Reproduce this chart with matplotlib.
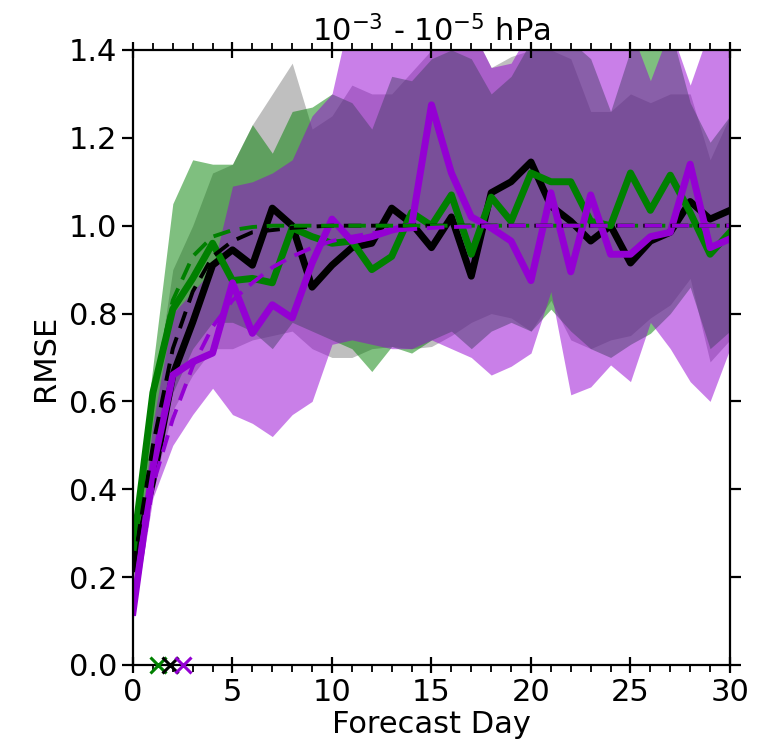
import matplotlib
matplotlib.use("Agg")
import matplotlib.pyplot as plt
from matplotlib.ticker import MultipleLocator

# forecast days
days = list(range(31))

# RMSE per experiment (control = black, exp A = green, exp B = purple)
rmse_k = [0.22, 0.42, 0.66, 0.78, 0.91, 0.945, 0.91, 1.04, 1.00, 0.86, 0.91, 0.95, 0.96, 1.04, 1.005,
          0.95, 1.02, 0.885, 1.075, 1.10, 1.145, 1.045, 1.01, 0.965, 1.00, 0.915, 0.965, 0.985, 1.055, 1.015, 1.035]
rmse_g = [0.26, 0.62, 0.81, 0.88, 0.96, 0.875, 0.88, 0.87, 0.995, 0.975, 0.96, 0.965, 0.90, 0.93, 1.03,
          1.00, 1.07, 0.935, 1.065, 1.01, 1.12, 1.10, 1.10, 1.01, 1.00, 1.12, 1.035, 1.115, 1.03, 0.935, 0.985]
rmse_p = [0.12, 0.45, 0.66, 0.69, 0.71, 0.87, 0.755, 0.82, 0.79, 0.915, 1.015, 0.965, 0.975, 0.99, 1.00,
          1.275, 1.12, 1.02, 0.995, 0.965, 0.875, 1.075, 0.895, 1.07, 0.935, 0.935, 0.975, 0.985, 1.14, 0.95, 0.97]

# fitted saturation curves (dashed)
fit_k = [0.22, 0.50, 0.72, 0.85, 0.93, 0.965, 0.985, 0.99, 0.995, 0.998, 1.0, 1.0, 1.0, 1.0, 1.0,
         1.0, 1.0, 1.0, 1.0, 1.0, 1.0, 1.0, 1.0, 1.0, 1.0, 1.0, 1.0, 1.0, 1.0, 1.0, 1.0]
fit_g = [0.27, 0.62, 0.83, 0.93, 0.975, 0.99, 0.997, 1.0, 1.0, 1.0, 1.0, 1.0, 1.0, 1.0, 1.0,
         1.0, 1.0, 1.0, 1.0, 1.0, 1.0, 1.0, 1.0, 1.0, 1.0, 1.0, 1.0, 1.0, 1.0, 1.0, 1.0]
fit_p = [0.12, 0.41, 0.56, 0.68, 0.77, 0.83, 0.87, 0.905, 0.93, 0.95, 0.965, 0.975, 0.983, 0.988, 0.992,
         0.995, 0.997, 0.998, 0.999, 1.0, 1.0, 1.0, 1.0, 1.0, 1.0, 1.0, 1.0, 1.0, 1.0, 1.0, 1.0]

# spread envelopes
lo_k = [0.18, 0.40, 0.58, 0.66, 0.72, 0.72, 0.74, 0.75, 0.76, 0.72, 0.70, 0.70, 0.72, 0.725, 0.72,
        0.725, 0.75, 0.78, 0.80, 0.79, 0.76, 0.83, 0.74, 0.72, 0.74, 0.75, 0.79, 0.82, 0.88, 0.69, 0.74]
hi_k = [0.28, 0.60, 0.90, 1.00, 1.12, 1.14, 1.23, 1.30, 1.37, 1.22, 1.25, 1.32, 1.30, 1.30, 1.35,
        1.40, 1.42, 1.45, 1.36, 1.385, 1.40, 1.40, 1.38, 1.26, 1.26, 1.30, 1.28, 1.30, 1.30, 1.15, 1.25]
lo_g = [0.20, 0.45, 0.62, 0.72, 0.78, 0.78, 0.76, 0.72, 0.78, 0.76, 0.74, 0.72, 0.668, 0.725, 0.71,
        0.74, 0.76, 0.72, 0.76, 0.78, 0.76, 0.81, 0.76, 0.72, 0.70, 0.73, 0.755, 0.80, 0.86, 0.72, 0.76]
hi_g = [0.30, 0.68, 1.05, 1.15, 1.14, 1.14, 1.23, 1.165, 1.26, 1.27, 1.30, 1.28, 1.22, 1.34, 1.33,
        1.38, 1.40, 1.38, 1.30, 1.34, 1.42, 1.45, 1.42, 1.38, 1.26, 1.40, 1.45, 1.45, 1.28, 1.19, 1.25]
lo_p = [0.10, 0.38, 0.50, 0.57, 0.63, 0.57, 0.55, 0.52, 0.57, 0.60, 0.73, 0.74, 0.73, 0.72, 0.72,
        0.74, 0.72, 0.70, 0.66, 0.68, 0.71, 0.85, 0.615, 0.633, 0.683, 0.645, 0.78, 0.72, 0.645, 0.60, 0.72]
hi_p = [0.15, 0.55, 0.80, 0.85, 0.90, 1.09, 1.10, 1.12, 1.15, 1.25, 1.30, 1.50, 1.50, 1.50, 1.50,
        1.60, 1.50, 1.45, 1.36, 1.37, 1.45, 1.50, 1.45, 1.50, 1.45, 1.45, 1.33, 1.45, 1.32, 1.45, 1.45]

# day where each fit reaches saturation
sat_day = {"green": 1.27, "black": 1.86, "darkviolet": 2.53}

FS = 22
plt.rcParams["font.family"] = "DejaVu Sans"
fig = plt.figure(figsize=(7.6, 7.56), dpi=100)
ax = fig.add_axes([0.175, 0.1204, 0.7855, 0.8135])

ax.fill_between(days, lo_k, hi_k, color="black", alpha=0.25, lw=0)
ax.fill_between(days, lo_g, hi_g, color="green", alpha=0.5, lw=0)
ax.fill_between(days, lo_p, hi_p, color="darkviolet", alpha=0.5, lw=0)

ax.plot(days, rmse_k, color="black", lw=5)
ax.plot(days, rmse_g, color="green", lw=5)
ax.plot(days, rmse_p, color="darkviolet", lw=5)

for fit, c in [(fit_k, "black"), (fit_g, "green"), (fit_p, "darkviolet")]:
    ax.plot(days, fit, color=c, lw=2.8, ls=(0, (4.5, 2.5)))

for c, d in sat_day.items():
    ax.plot(d, 0, "x", color=c, ms=11, mew=2.2, clip_on=False, zorder=5)

ax.set_xlim(0, 30)
ax.set_ylim(0, 1.4)
ax.xaxis.set_major_locator(MultipleLocator(5))
ax.xaxis.set_minor_locator(MultipleLocator(1))
ax.yaxis.set_major_locator(MultipleLocator(0.2))
ax.tick_params(axis="x", which="major", direction="inout", length=11, width=1.6,
               top=True, labelsize=FS, pad=4)
ax.tick_params(axis="x", which="minor", direction="out", length=5, width=1.3, top=True)
ax.tick_params(axis="y", which="major", direction="out", length=8, width=1.6,
               right=True, labelsize=FS)
for s in ax.spines.values():
    s.set_linewidth(1.6)

ax.set_xlabel("Forecast Day", fontsize=FS, labelpad=2)
ax.set_ylabel("RMSE", fontsize=FS, labelpad=6)
ax.set_title("$10^{-3}$ - $10^{-5}$ hPa", fontsize=FS, pad=6)

fig.savefig("out.png", dpi=100)
